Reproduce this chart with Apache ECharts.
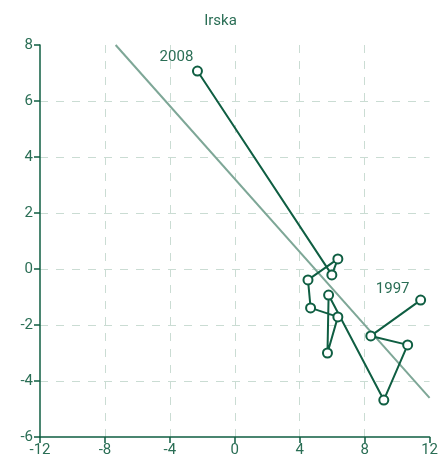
<!DOCTYPE html>
<html>
<head>
<meta charset="utf-8">
<script src="https://cdn.jsdelivr.net/npm/echarts@6/dist/echarts.min.js"></script>
<style>html,body{margin:0;padding:0;background:#fff}#c{width:441px;height:468px}</style>
</head>
<body>
<div id="c"></div>
<script>
const years = ['1997','1998','1999','2000','2001','2002','2003','2004','2005','2006','2007','2008'];
const xValues = [11.45, 8.38, 10.65, 9.18, 5.78, 5.71, 6.35, 4.67, 4.51, 6.35, 5.98, -2.30];
const yValues = [-1.11, -2.39, -2.71, -4.68, -0.93, -3.00, -1.71, -1.39, -0.39, 0.36, -0.21, 7.07];
const trendX = [-7.34, 12];
const trendY = [8, -4.6];
const labeledYears = {'1997': [-28, -11], '2008': [-21, -14]};

const dark = '#0f5e42';
const textCol = '#2a6e55';
const font = 'Liberation Sans Narrow, Roboto, sans-serif';

const pts = years.map((yr, i) => {
  const item = { value: [xValues[i], yValues[i]] };
  if (labeledYears[yr]) {
    item.label = { show: true, formatter: yr, position: 'inside', offset: labeledYears[yr],
      color: textCol, fontSize: 15, fontFamily: font };
  }
  return item;
});

const chart = echarts.init(document.getElementById('c'), null, { renderer: 'canvas' });
chart.setOption({
  animation: false,
  title: { text: 'Irska', left: 'center', top: 9,
    textStyle: { color: textCol, fontSize: 15, fontWeight: 'normal', fontFamily: font } },
  grid: { left: 40, right: 10, top: 45, bottom: 31, containLabel: false },
  xAxis: {
    type: 'value', min: -12, max: 12, interval: 4,
    axisLine: { show: true, onZero: false, lineStyle: { color: dark, width: 1.5 } },
    axisTick: { show: true, length: 6, lineStyle: { color: dark, width: 1.5 } },
    axisLabel: { color: textCol, fontSize: 15, fontFamily: font, margin: 6 },
    splitLine: { show: true, showMinLine: false, showMaxLine: false,
      lineStyle: { color: '#cadcd3', type: [8, 8], width: 1 } }
  },
  yAxis: {
    type: 'value', min: -6, max: 8, interval: 2,
    axisLine: { show: true, onZero: false, lineStyle: { color: dark, width: 1.5 } },
    axisTick: { show: true, length: 6, lineStyle: { color: dark, width: 1.5 } },
    axisLabel: { color: textCol, fontSize: 15, fontFamily: font, margin: 7 },
    splitLine: { show: true, showMinLine: false, showMaxLine: false,
      lineStyle: { color: '#cadcd3', type: [8, 8], width: 1 } }
  },
  series: [
    {
      type: 'line', z: 1, symbol: 'none', silent: true,
      data: trendX.map((x, i) => [x, trendY[i]]),
      lineStyle: { color: '#7ea797', width: 2 }
    },
    {
      type: 'line', z: 2, symbol: 'circle', symbolSize: 9, showAllSymbol: true,
      data: pts,
      lineStyle: { color: dark, width: 2 },
      itemStyle: { color: '#ffffff', borderColor: dark, borderWidth: 2 }
    }
  ]
});
</script>
</body>
</html>
